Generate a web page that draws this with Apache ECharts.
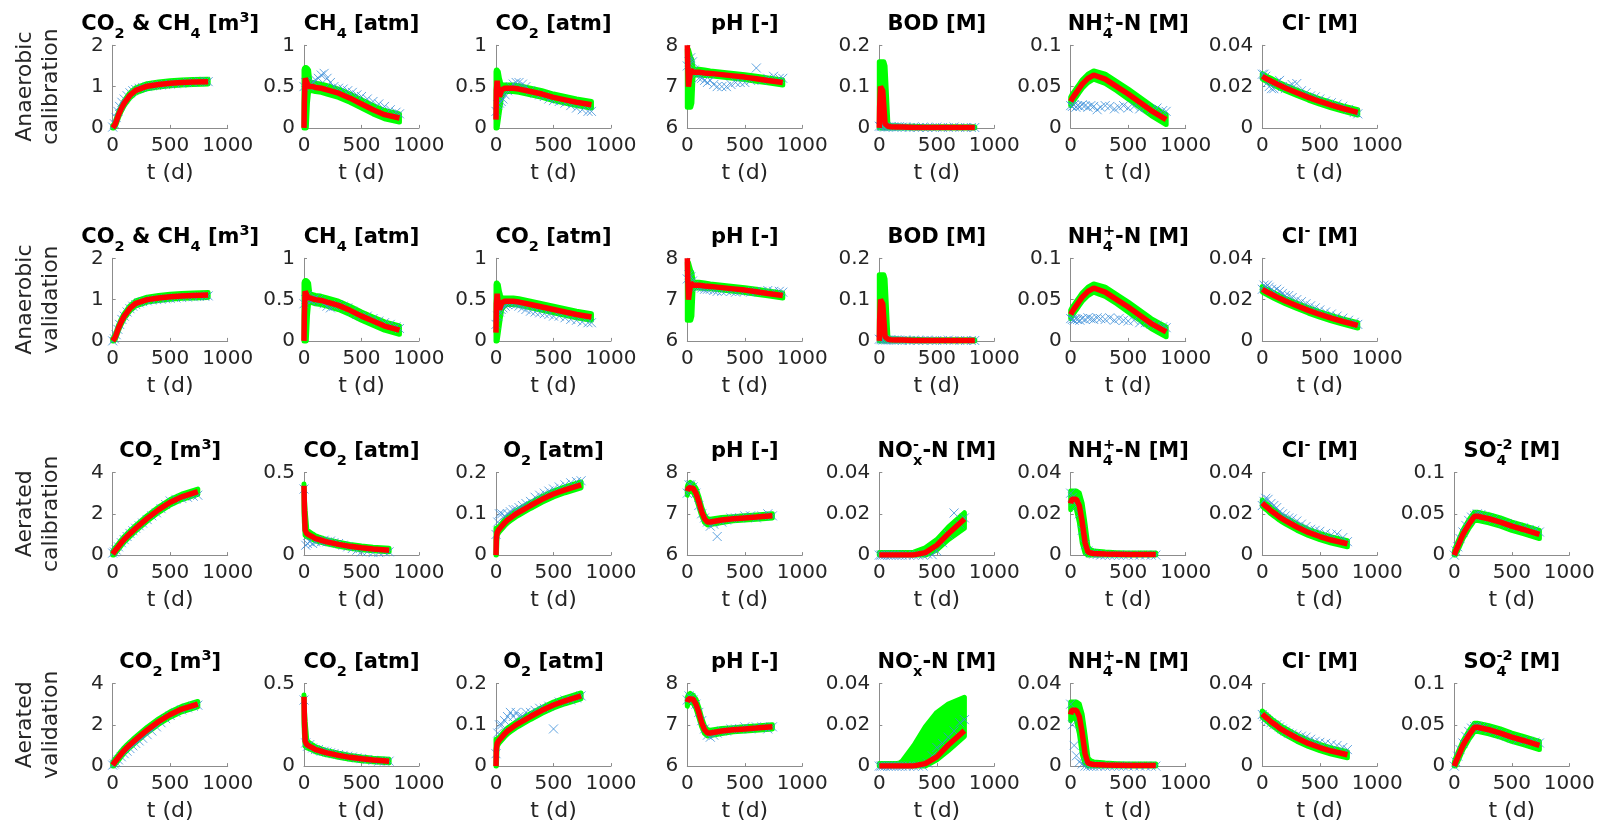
<!DOCTYPE html>
<html><head><meta charset="utf-8">
<script src="https://cdn.jsdelivr.net/npm/echarts@6/dist/echarts.min.js"></script>
<style>html,body{margin:0;padding:0;background:#fff}#c{width:1604px;height:826px}</style>
</head><body><div id="c"></div>
<script>
// ---------- time grids ----------
const tAn = [0, 3, 10, 20, 30, 40, 50, 75, 100, 150, 200, 300, 400, 500, 600, 700, 830];
const oAn = [0, 15, 30, 45, 60, 80, 100, 125, 150, 175, 200, 230, 260, 300, 340, 380, 420, 460, 500, 550, 600, 650, 700, 750, 800, 830];
const tAe = [0, 3, 10, 25, 50, 75, 100, 125, 150, 175, 200, 300, 400, 500, 600, 740];
const oAe = [0, 15, 30, 50, 75, 100, 125, 150, 175, 200, 230, 260, 300, 340, 380, 420, 460, 500, 550, 600, 650, 700, 740];
const xTicks = [0, 500, 1000];

const rowLabels = ['Anaerobic\ncalibration', 'Anaerobic\nvalidation', 'Aerated\ncalibration', 'Aerated\nvalidation'];
const titlesAn = ['{m|CO}{b|2}{m| & CH}{b|4}{m| [m}{p|3}{m|]}', '{m|CH}{b|4}{m| [atm]}', '{m|CO}{b|2}{m| [atm]}', '{m|pH [-]}', '{m|BOD [M]}', '{m|NH}{c|4}{p|+}{m|-N [M]}', '{m|Cl}{p|-}{m| [M]}'];
const titlesAe = ['{m|CO}{b|2}{m| [m}{p|3}{m|]}', '{m|CO}{b|2}{m| [atm]}', '{m|O}{b|2}{m| [atm]}', '{m|pH [-]}', '{m|NO}{q|-}{b|x}{m|-N [M]}', '{m|NH}{c|4}{p|+}{m|-N [M]}', '{m|Cl}{p|-}{m| [M]}', '{m|SO}{c|4}{p|-2}{m| [M]}'];
const yMinAn = [0, 0, 0, 6, 0, 0, 0];
const yMaxAn = [2, 1, 1, 8, 0.2, 0.1, 0.04];
const yStepAn = [1, 0.5, 0.5, 1, 0.1, 0.05, 0.02];
const yMinAe = [0, 0, 0, 6, 0, 0, 0, 0];
const yMaxAe = [4, 0.5, 0.2, 8, 0.04, 0.04, 0.04, 0.1];
const yStepAe = [2, 0.5, 0.1, 1, 0.02, 0.02, 0.02, 0.05];

// ---------- Anaerobic calibration ----------
const anCalRed = [
 [0, 0, 0.02, 0.08, 0.15, 0.23, 0.31, 0.47, 0.6, 0.79, 0.91, 1.01, 1.05, 1.08, 1.1, 1.11, 1.12],
 [0, 0.3, 0.6, 0.62, 0.53, 0.5, 0.5, 0.5, 0.49, 0.48, 0.46, 0.42, 0.36, 0.29, 0.22, 0.16, 0.12],
 [0.1, 0.45, 0.57, 0.45, 0.38, 0.42, 0.46, 0.48, 0.48, 0.48, 0.47, 0.44, 0.41, 0.37, 0.34, 0.31, 0.28],
 [8, 7.6, 7.0, 7.2, 7.4, 7.36, 7.35, 7.35, 7.35, 7.33, 7.32, 7.29, 7.26, 7.23, 7.19, 7.15, 7.1],
 [0, 0.05, 0.1, 0.1, 0.09, 0.05, 0.01, 0.004, 0.003, 0.002, 0.002, 0.001, 0.001, 0.001, 0.001, 0.001, 0.001],
 [0.032, 0.033, 0.035, 0.037, 0.039, 0.041, 0.043, 0.048, 0.053, 0.06, 0.064, 0.059, 0.05, 0.041, 0.031, 0.021, 0.01],
 [0.025, 0.0249, 0.0246, 0.0243, 0.024, 0.0237, 0.0234, 0.0227, 0.022, 0.0206, 0.0193, 0.017, 0.0148, 0.0128, 0.011, 0.0094, 0.0075]
];
const anCalLo = [
 [0, 0, 0, 0.02, 0.09, 0.17, 0.25, 0.41, 0.54, 0.73, 0.85, 0.95, 0.99, 1.02, 1.04, 1.05, 1.06],
 [0, 0, 0, 0, 0.3, 0.44, 0.45, 0.45, 0.44, 0.43, 0.41, 0.37, 0.31, 0.24, 0.17, 0.11, 0.07],
 [0, 0, 0, 0.1, 0.2, 0.3, 0.38, 0.43, 0.44, 0.44, 0.43, 0.4, 0.37, 0.33, 0.3, 0.27, 0.24],
 [6.5, 6.5, 6.5, 6.5, 6.5, 6.6, 7.26, 7.28, 7.28, 7.27, 7.26, 7.23, 7.2, 7.17, 7.13, 7.09, 7.04],
 [0, 0, 0, 0, 0, 0, 0, 0, 0, 0, 0, 0, 0, 0, 0, 0, 0],
 [0.027, 0.028, 0.03, 0.032, 0.034, 0.036, 0.038, 0.043, 0.048, 0.055, 0.059, 0.054, 0.045, 0.035, 0.025, 0.015, 0.004],
 [0.0237, 0.0236, 0.0233, 0.023, 0.0227, 0.0224, 0.0221, 0.0214, 0.0207, 0.0193, 0.018, 0.0157, 0.0135, 0.0115, 0.0097, 0.0081, 0.0062]
];
const anCalHi = [
 [0.06, 0.06, 0.08, 0.14, 0.21, 0.29, 0.37, 0.53, 0.66, 0.85, 0.97, 1.07, 1.11, 1.14, 1.16, 1.17, 1.18],
 [0.7, 0.72, 0.73, 0.73, 0.72, 0.7, 0.57, 0.55, 0.54, 0.53, 0.51, 0.47, 0.41, 0.34, 0.27, 0.21, 0.17],
 [0.68, 0.7, 0.7, 0.68, 0.6, 0.55, 0.52, 0.52, 0.52, 0.52, 0.51, 0.48, 0.45, 0.41, 0.38, 0.35, 0.32],
 [7.9, 7.9, 7.9, 7.8, 7.7, 7.65, 7.45, 7.42, 7.42, 7.4, 7.38, 7.35, 7.32, 7.29, 7.25, 7.21, 7.16],
 [0.16, 0.16, 0.16, 0.16, 0.16, 0.16, 0.15, 0.008, 0.006, 0.005, 0.004, 0.004, 0.003, 0.003, 0.003, 0.003, 0.003],
 [0.037, 0.038, 0.04, 0.042, 0.044, 0.046, 0.048, 0.053, 0.058, 0.065, 0.069, 0.065, 0.056, 0.047, 0.037, 0.027, 0.016],
 [0.0263, 0.0262, 0.0259, 0.0256, 0.0253, 0.025, 0.0247, 0.024, 0.0233, 0.0219, 0.0206, 0.0183, 0.0161, 0.0141, 0.0123, 0.0107, 0.0088]
];
const anCalObs = [
 [0.02, 0.1, 0.25, 0.4, 0.52, 0.62, 0.7, 0.78, 0.85, 0.9, 0.93, 0.96, 0.98, 1.0, 1.02, 1.03, 1.04, 1.05, 1.06, 1.07, 1.08, 1.1, 1.1, 1.12, 1.13, 1.12],
 [0.5, 0.55, 0.52, 0.5, 0.52, 0.56, 0.58, 0.6, 0.64, 0.66, 0.6, 0.55, 0.5, 0.48, 0.47, 0.45, 0.43, 0.4, 0.38, 0.35, 0.32, 0.29, 0.26, 0.22, 0.19, 0.17],
 [0.2, 0.28, 0.3, 0.32, 0.35, 0.4, 0.45, 0.5, 0.53, 0.55, 0.55, 0.53, 0.5, 0.45, 0.42, 0.4, 0.38, 0.35, 0.33, 0.32, 0.3, 0.27, 0.24, 0.22, 0.2, 0.2],
 [7.5, 7.6, 7.7, 7.6, 7.4, 7.3, 7.2, 7.2, 7.15, 7.1, 7.15, 7.05, 7.0, 7.0, 7.0, 7.05, 7.1, 7.1, 7.1, 7.15, 7.45, 7.15, 7.2, 7.25, 7.2, 7.2],
 [0.004, 0.003, 0.004, 0.002, 0.003, 0.002, 0.003, 0.002, 0.002, 0.003, 0.002, 0.002, 0.001, 0.002, 0.001, 0.002, 0.001, 0.001, 0.002, 0.001, 0.001, 0.002, 0.001, 0.001, 0.001, 0.001],
 [0.027, 0.026, 0.028, 0.025, 0.027, 0.026, 0.028, 0.027, 0.025, 0.027, 0.026, 0.022, 0.025, 0.027, 0.026, 0.023, 0.025, 0.027, 0.024, 0.026, 0.023, 0.025, 0.022, 0.024, 0.021, 0.02],
 [0.026, 0.026, 0.025, 0.022, 0.02, 0.019, 0.019, 0.022, 0.023, 0.02, 0.019, 0.02, 0.021, 0.0215, 0.018, 0.017, 0.0155, 0.015, 0.014, 0.013, 0.0122, 0.0115, 0.0105, 0.009, 0.0075, 0.0068]
];

// ---------- Anaerobic validation ----------
const anValRed = [
 [0, 0, 0.02, 0.08, 0.15, 0.23, 0.31, 0.47, 0.6, 0.79, 0.91, 1.0, 1.04, 1.07, 1.09, 1.1, 1.11],
 [0, 0.3, 0.6, 0.62, 0.53, 0.52, 0.52, 0.51, 0.5, 0.49, 0.47, 0.43, 0.37, 0.3, 0.24, 0.18, 0.13],
 [0.1, 0.45, 0.57, 0.45, 0.38, 0.42, 0.46, 0.48, 0.48, 0.48, 0.47, 0.44, 0.41, 0.38, 0.35, 0.32, 0.29],
 [8, 7.6, 7.0, 7.2, 7.4, 7.36, 7.35, 7.35, 7.35, 7.33, 7.32, 7.29, 7.26, 7.23, 7.19, 7.15, 7.1],
 [0, 0.05, 0.1, 0.1, 0.09, 0.05, 0.01, 0.004, 0.003, 0.002, 0.002, 0.001, 0.001, 0.001, 0.001, 0.001, 0.001],
 [0.032, 0.033, 0.035, 0.037, 0.039, 0.041, 0.043, 0.048, 0.053, 0.06, 0.064, 0.059, 0.05, 0.041, 0.031, 0.021, 0.011],
 [0.025, 0.0249, 0.0246, 0.0243, 0.024, 0.0237, 0.0234, 0.0227, 0.022, 0.0206, 0.0193, 0.017, 0.0148, 0.0128, 0.011, 0.0094, 0.0075]
];
const anValLo = [
 [0, 0, 0, 0.02, 0.09, 0.17, 0.25, 0.41, 0.54, 0.73, 0.85, 0.94, 0.98, 1.01, 1.03, 1.04, 1.05],
 [0, 0, 0, 0, 0.3, 0.46, 0.47, 0.46, 0.45, 0.44, 0.42, 0.38, 0.32, 0.25, 0.19, 0.13, 0.08],
 [0, 0, 0, 0.1, 0.2, 0.3, 0.38, 0.43, 0.44, 0.44, 0.43, 0.4, 0.37, 0.34, 0.31, 0.28, 0.25],
 [6.5, 6.5, 6.5, 6.5, 6.5, 6.6, 7.26, 7.28, 7.28, 7.27, 7.26, 7.23, 7.2, 7.17, 7.13, 7.09, 7.04],
 [0, 0, 0, 0, 0, 0, 0, 0, 0, 0, 0, 0, 0, 0, 0, 0, 0],
 [0.027, 0.028, 0.03, 0.032, 0.034, 0.036, 0.038, 0.043, 0.048, 0.055, 0.059, 0.054, 0.045, 0.035, 0.025, 0.015, 0.005],
 [0.0237, 0.0236, 0.0233, 0.023, 0.0227, 0.0224, 0.0221, 0.0214, 0.0207, 0.0193, 0.018, 0.0157, 0.0135, 0.0115, 0.0097, 0.0081, 0.0062]
];
const anValHi = [
 [0.06, 0.06, 0.08, 0.14, 0.21, 0.29, 0.37, 0.53, 0.66, 0.85, 0.97, 1.06, 1.1, 1.13, 1.15, 1.16, 1.17],
 [0.7, 0.72, 0.73, 0.73, 0.72, 0.7, 0.58, 0.56, 0.55, 0.54, 0.52, 0.48, 0.42, 0.35, 0.29, 0.23, 0.18],
 [0.68, 0.7, 0.7, 0.68, 0.6, 0.55, 0.52, 0.52, 0.52, 0.52, 0.51, 0.48, 0.45, 0.42, 0.39, 0.36, 0.33],
 [7.9, 7.9, 7.9, 7.8, 7.7, 7.65, 7.45, 7.42, 7.42, 7.4, 7.38, 7.35, 7.32, 7.29, 7.25, 7.21, 7.16],
 [0.16, 0.16, 0.16, 0.16, 0.16, 0.16, 0.15, 0.008, 0.006, 0.005, 0.004, 0.004, 0.003, 0.003, 0.003, 0.003, 0.003],
 [0.037, 0.038, 0.04, 0.042, 0.044, 0.046, 0.048, 0.053, 0.058, 0.065, 0.069, 0.065, 0.056, 0.047, 0.037, 0.027, 0.017],
 [0.0263, 0.0262, 0.0259, 0.0256, 0.0253, 0.025, 0.0247, 0.024, 0.0233, 0.0219, 0.0206, 0.0183, 0.0161, 0.0141, 0.0123, 0.0107, 0.0088]
];
const anValObs = [
 [0, 0.05, 0.15, 0.28, 0.4, 0.52, 0.6, 0.7, 0.78, 0.84, 0.88, 0.92, 0.95, 0.97, 0.99, 1.0, 1.01, 1.02, 1.03, 1.04, 1.05, 1.06, 1.07, 1.08, 1.08, 1.09],
 [0.45, 0.5, 0.55, 0.5, 0.48, 0.5, 0.52, 0.5, 0.48, 0.45, 0.42, 0.4, 0.42, 0.44, 0.42, 0.4, 0.36, 0.32, 0.3, 0.3, 0.27, 0.24, 0.22, 0.2, 0.17, 0.15],
 [0.2, 0.3, 0.35, 0.38, 0.4, 0.42, 0.44, 0.45, 0.45, 0.44, 0.42, 0.4, 0.38, 0.36, 0.35, 0.34, 0.33, 0.32, 0.3, 0.3, 0.28, 0.26, 0.25, 0.23, 0.22, 0.22],
 [7.5, 7.6, 7.55, 7.45, 7.35, 7.3, 7.3, 7.28, 7.25, 7.25, 7.25, 7.22, 7.2, 7.2, 7.22, 7.2, 7.18, 7.2, 7.2, 7.18, 7.2, 7.2, 7.22, 7.2, 7.2, 7.18],
 [0.004, 0.003, 0.002, 0.003, 0.002, 0.002, 0.003, 0.002, 0.002, 0.002, 0.001, 0.002, 0.001, 0.002, 0.001, 0.001, 0.002, 0.001, 0.001, 0.001, 0.002, 0.001, 0.001, 0.001, 0.001, 0.001],
 [0.027, 0.026, 0.025, 0.027, 0.026, 0.025, 0.027, 0.026, 0.028, 0.027, 0.026, 0.028, 0.027, 0.026, 0.028, 0.025, 0.027, 0.025, 0.024, 0.025, 0.022, 0.022, 0.02, 0.019, 0.017, 0.016],
 [0.025, 0.027, 0.026, 0.027, 0.026, 0.025, 0.024, 0.025, 0.024, 0.023, 0.022, 0.022, 0.021, 0.02, 0.019, 0.018, 0.017, 0.016, 0.015, 0.014, 0.013, 0.012, 0.011, 0.01, 0.009, 0.008]
];

// ---------- Aerated calibration ----------
const aeCalRed = [
 [0.05, 0.07, 0.13, 0.25, 0.42, 0.6, 0.76, 0.9, 1.04, 1.17, 1.3, 1.78, 2.2, 2.56, 2.82, 3.07],
 [0.42, 0.3, 0.15, 0.13, 0.12, 0.11, 0.1, 0.095, 0.09, 0.085, 0.08, 0.065, 0.053, 0.044, 0.037, 0.03],
 [0, 0.04, 0.055, 0.062, 0.07, 0.078, 0.085, 0.09, 0.095, 0.1, 0.104, 0.12, 0.135, 0.148, 0.158, 0.17],
 [7.55, 7.58, 7.63, 7.66, 7.62, 7.5, 7.3, 7.05, 6.88, 6.8, 6.8, 6.85, 6.88, 6.9, 6.92, 6.95],
 [0, 0, 0, 0, 0, 0, 0, 0, 0, 0, 0, 0.0001, 0.0012, 0.0048, 0.0103, 0.0175],
 [0.025, 0.026, 0.027, 0.0275, 0.027, 0.024, 0.016, 0.006, 0.0015, 0.001, 0.0008, 0.0005, 0.0004, 0.0003, 0.0003, 0.0003],
 [0.0252, 0.025, 0.0247, 0.0239, 0.0228, 0.0215, 0.0205, 0.0195, 0.0184, 0.0175, 0.0167, 0.0136, 0.011, 0.009, 0.0073, 0.0055],
 [0, 0.001, 0.004, 0.009, 0.017, 0.025, 0.031, 0.037, 0.042, 0.047, 0.047, 0.044, 0.04, 0.035, 0.031, 0.025]
];
const aeCalLo = [
 [0, 0, 0, 0.12, 0.29, 0.47, 0.63, 0.77, 0.91, 1.04, 1.17, 1.65, 2.07, 2.43, 2.69, 2.94],
 [0.26, 0.2, 0.12, 0.11, 0.105, 0.095, 0.087, 0.082, 0.077, 0.072, 0.068, 0.053, 0.042, 0.033, 0.026, 0.02],
 [0, 0, 0.048, 0.055, 0.063, 0.071, 0.078, 0.083, 0.088, 0.093, 0.097, 0.113, 0.128, 0.141, 0.151, 0.163],
 [7.45, 7.48, 7.53, 7.56, 7.52, 7.4, 7.18, 6.95, 6.79, 6.73, 6.74, 6.79, 6.83, 6.85, 6.87, 6.9],
 [0, 0, 0, 0, 0, 0, 0, 0, 0, 0, 0, 0, 0, 0.0025, 0.0075, 0.013],
 [0.022, 0.023, 0.024, 0.024, 0.022, 0.016, 0.006, 0.001, 0, 0, 0, 0, 0, 0, 0, 0],
 [0.0237, 0.0235, 0.0232, 0.0224, 0.0213, 0.02, 0.019, 0.018, 0.0169, 0.016, 0.0152, 0.0121, 0.0095, 0.0075, 0.0058, 0.004],
 [0, 0, 0, 0.004, 0.012, 0.02, 0.026, 0.032, 0.037, 0.042, 0.042, 0.039, 0.035, 0.03, 0.026, 0.02]
];
const aeCalHi = [
 [0.18, 0.2, 0.26, 0.38, 0.55, 0.73, 0.89, 1.03, 1.17, 1.3, 1.43, 1.91, 2.33, 2.69, 2.95, 3.2],
 [0.43, 0.35, 0.27, 0.15, 0.14, 0.128, 0.117, 0.11, 0.104, 0.098, 0.093, 0.078, 0.065, 0.055, 0.048, 0.041],
 [0.065, 0.065, 0.063, 0.069, 0.077, 0.085, 0.092, 0.097, 0.102, 0.107, 0.111, 0.127, 0.142, 0.155, 0.165, 0.177],
 [7.65, 7.68, 7.73, 7.76, 7.72, 7.62, 7.42, 7.16, 6.97, 6.88, 6.87, 6.91, 6.93, 6.95, 6.97, 7.0],
 [0.0012, 0.0012, 0.0012, 0.0012, 0.0012, 0.0012, 0.0012, 0.0012, 0.0012, 0.0012, 0.0012, 0.0014, 0.0035, 0.0075, 0.0135, 0.0205],
 [0.031, 0.031, 0.031, 0.031, 0.031, 0.03, 0.025, 0.015, 0.004, 0.0025, 0.002, 0.0015, 0.0012, 0.001, 0.001, 0.001],
 [0.0267, 0.0265, 0.0262, 0.0254, 0.0243, 0.023, 0.022, 0.021, 0.0199, 0.019, 0.0182, 0.0151, 0.0125, 0.0105, 0.0088, 0.007],
 [0.004, 0.006, 0.009, 0.014, 0.022, 0.03, 0.036, 0.042, 0.047, 0.052, 0.052, 0.049, 0.045, 0.04, 0.036, 0.03]
];
const aeCalObs = [
 [0.1, 0.15, 0.25, 0.4, 0.6, 0.75, 0.9, 1.05, 1.18, 1.3, 1.42, 1.55, 1.72, 1.9, 2.05, 2.25, 2.45, 2.62, 2.7, 2.75, 2.8, 2.85, 2.9],
 [0.4, 0.06, 0.07, 0.08, 0.07, 0.08, 0.09, 0.08, 0.09, 0.08, 0.085, 0.075, 0.07, 0.06, 0.05, 0.04, 0.03, 0.02, 0.02, 0.015, 0.015, 0.02, 0.02],
 [0.05, 0.08, 0.1, 0.1, 0.095, 0.1, 0.105, 0.11, 0.11, 0.115, 0.12, 0.125, 0.13, 0.14, 0.145, 0.15, 0.155, 0.16, 0.165, 0.17, 0.175, 0.178, 0.18],
 [7.5, 7.7, 7.7, 7.65, 7.5, 7.2, 7.0, 6.9, 6.8, 6.7, 6.75, 6.45, 6.8, 6.85, 6.9, 6.9, 6.9, 6.95, 6.95, 6.9, 6.95, 7.0, 6.95],
 [0, 0, 0, 0, 0, 0, 0, 0, 0, 0, 0, 0, 0, 0, 0, 0.0005, 0.0002, 0.002, 0.006, 0.01, 0.0204, 0.015, 0.018],
 [0.03, 0.028, 0.026, 0.024, 0.02, 0.012, 0.005, 0.002, 0.001, 0.0005, 0.0003, 0, 0, 0, 0, 0, 0, 0, 0, 0, 0, 0, 0],
 [0.024, 0.026, 0.0275, 0.027, 0.025, 0.024, 0.023, 0.021, 0.02, 0.019, 0.018, 0.0175, 0.0165, 0.015, 0.0138, 0.0125, 0.012, 0.0115, 0.0105, 0.0098, 0.0102, 0.0085, 0.0065],
 [0, 0.005, 0.01, 0.02, 0.028, 0.036, 0.042, 0.046, 0.048, 0.05, 0.049, 0.047, 0.045, 0.043, 0.041, 0.039, 0.038, 0.036, 0.034, 0.033, 0.031, 0.03, 0.028]
];

// ---------- Aerated validation ----------
const aeValRed = [
 [0.05, 0.07, 0.13, 0.25, 0.42, 0.6, 0.76, 0.9, 1.03, 1.16, 1.28, 1.75, 2.16, 2.5, 2.76, 3.0],
 [0.42, 0.3, 0.15, 0.13, 0.12, 0.11, 0.1, 0.095, 0.09, 0.085, 0.08, 0.065, 0.053, 0.044, 0.037, 0.03],
 [0, 0.04, 0.055, 0.062, 0.07, 0.078, 0.085, 0.09, 0.095, 0.1, 0.104, 0.12, 0.135, 0.148, 0.158, 0.17],
 [7.55, 7.58, 7.63, 7.66, 7.62, 7.5, 7.3, 7.05, 6.88, 6.8, 6.8, 6.85, 6.88, 6.9, 6.92, 6.95],
 [0, 0, 0, 0, 0, 0, 0, 0, 0, 0, 0, 0.0001, 0.0012, 0.0045, 0.0102, 0.0172],
 [0.025, 0.026, 0.027, 0.0275, 0.027, 0.024, 0.016, 0.006, 0.0015, 0.001, 0.0008, 0.0005, 0.0004, 0.0003, 0.0003, 0.0003],
 [0.0252, 0.025, 0.0247, 0.0239, 0.0228, 0.0215, 0.0205, 0.0195, 0.0184, 0.0175, 0.0167, 0.0136, 0.011, 0.009, 0.0073, 0.0055],
 [0, 0.001, 0.004, 0.009, 0.017, 0.025, 0.031, 0.037, 0.042, 0.047, 0.047, 0.044, 0.04, 0.035, 0.031, 0.025]
];
const aeValLo = [
 [0, 0, 0, 0.12, 0.29, 0.47, 0.63, 0.77, 0.9, 1.03, 1.15, 1.62, 2.03, 2.37, 2.63, 2.87],
 [0.26, 0.2, 0.12, 0.11, 0.105, 0.095, 0.087, 0.082, 0.077, 0.072, 0.068, 0.053, 0.042, 0.033, 0.026, 0.02],
 [0, 0, 0.048, 0.055, 0.063, 0.071, 0.078, 0.083, 0.088, 0.093, 0.097, 0.113, 0.128, 0.141, 0.151, 0.163],
 [7.45, 7.48, 7.53, 7.56, 7.52, 7.4, 7.18, 6.95, 6.79, 6.73, 6.74, 6.79, 6.83, 6.85, 6.87, 6.9],
 [0, 0, 0, 0, 0, 0, 0, 0, 0, 0, 0, 0, 0, 0.003, 0.0075, 0.0144],
 [0.022, 0.023, 0.024, 0.024, 0.022, 0.016, 0.006, 0.001, 0, 0, 0, 0, 0, 0, 0, 0],
 [0.0237, 0.0235, 0.0232, 0.0224, 0.0213, 0.02, 0.019, 0.018, 0.0169, 0.016, 0.0152, 0.0121, 0.0095, 0.0075, 0.0058, 0.004],
 [0, 0, 0, 0.004, 0.012, 0.02, 0.026, 0.032, 0.037, 0.042, 0.042, 0.039, 0.035, 0.03, 0.026, 0.02]
];
const aeValHi = [
 [0.18, 0.2, 0.26, 0.38, 0.55, 0.73, 0.89, 1.03, 1.16, 1.29, 1.41, 1.88, 2.29, 2.63, 2.89, 3.13],
 [0.43, 0.35, 0.27, 0.15, 0.14, 0.128, 0.117, 0.11, 0.104, 0.098, 0.093, 0.078, 0.065, 0.055, 0.048, 0.041],
 [0.065, 0.065, 0.063, 0.069, 0.077, 0.085, 0.092, 0.097, 0.102, 0.107, 0.111, 0.127, 0.142, 0.155, 0.165, 0.177],
 [7.65, 7.68, 7.73, 7.76, 7.72, 7.62, 7.42, 7.16, 6.97, 6.88, 6.87, 6.91, 6.93, 6.95, 6.97, 7.0],
 [0.0012, 0.0012, 0.0012, 0.0012, 0.0012, 0.0012, 0.0012, 0.0012, 0.0012, 0.0015, 0.0025, 0.01, 0.019, 0.026, 0.03, 0.0333],
 [0.031, 0.031, 0.031, 0.031, 0.031, 0.03, 0.025, 0.015, 0.004, 0.0025, 0.002, 0.0015, 0.0012, 0.001, 0.001, 0.001],
 [0.0267, 0.0265, 0.0262, 0.0254, 0.0243, 0.023, 0.022, 0.021, 0.0199, 0.019, 0.0182, 0.0151, 0.0125, 0.0105, 0.0088, 0.007],
 [0.004, 0.006, 0.009, 0.014, 0.022, 0.03, 0.036, 0.042, 0.047, 0.052, 0.052, 0.049, 0.045, 0.04, 0.036, 0.03]
];
const aeValObs = [
 [0.05, 0.1, 0.18, 0.3, 0.45, 0.6, 0.72, 0.85, 0.98, 1.1, 1.22, 1.35, 1.52, 1.7, 1.9, 2.1, 2.3, 2.45, 2.6, 2.72, 2.82, 2.9, 2.95],
 [0.4, 0.14, 0.12, 0.13, 0.11, 0.1, 0.1, 0.09, 0.09, 0.085, 0.08, 0.075, 0.07, 0.065, 0.06, 0.055, 0.05, 0.045, 0.04, 0.035, 0.03, 0.03, 0.03],
 [0.03, 0.08, 0.1, 0.1, 0.11, 0.12, 0.13, 0.12, 0.13, 0.12, 0.12, 0.13, 0.13, 0.135, 0.14, 0.14, 0.145, 0.09, 0.155, 0.16, 0.16, 0.165, 0.17],
 [7.6, 7.7, 7.65, 7.6, 7.5, 7.3, 7.1, 6.9, 6.75, 6.7, 6.75, 6.8, 6.85, 6.85, 6.9, 6.9, 6.9, 6.95, 6.9, 6.95, 6.95, 6.9, 6.95],
 [0, 0, 0, 0, 0, 0, 0, 0, 0, 0, 0, 0, 0, 0, 0, 0.0015, 0.005, 0.009, 0.011, 0.014, 0.017, 0.021, 0.0225],
 [0.03, 0.02, 0.01, 0.005, 0.002, 0.001, 0, 0, 0, 0, 0, 0, 0, 0, 0, 0, 0, 0, 0, 0, 0, 0, 0],
 [0.025, 0.024, 0.023, 0.022, 0.021, 0.02, 0.02, 0.019, 0.018, 0.017, 0.016, 0.0155, 0.015, 0.0145, 0.014, 0.013, 0.012, 0.0115, 0.011, 0.0105, 0.01, 0.009, 0.008],
 [0, 0.005, 0.012, 0.02, 0.028, 0.036, 0.042, 0.046, 0.048, 0.048, 0.047, 0.046, 0.044, 0.042, 0.04, 0.038, 0.036, 0.034, 0.032, 0.031, 0.03, 0.029, 0.028]
];

// ---------- layout & style ----------
const colLeft = [112.7, 304, 496, 687.3, 879.3, 1070.7, 1262.3, 1454.3];
const rowTop = [45.3, 258.3, 472.5, 683.5];
const W = 115, H = 82.6;
const GREEN = '#00ff00', RED = '#ff0000', BLUE = '#3b8ed8', AXC = '#8c8c8c', TXT = '#262626';
const FF = 'DejaVu Sans';

const rows = [
  {t: tAn, o: oAn, red: anCalRed, lo: anCalLo, hi: anCalHi, obs: anCalObs, titles: titlesAn, ymin: yMinAn, ymax: yMaxAn, ystep: yStepAn},
  {t: tAn, o: oAn, red: anValRed, lo: anValLo, hi: anValHi, obs: anValObs, titles: titlesAn, ymin: yMinAn, ymax: yMaxAn, ystep: yStepAn},
  {t: tAe, o: oAe, red: aeCalRed, lo: aeCalLo, hi: aeCalHi, obs: aeCalObs, titles: titlesAe, ymin: yMinAe, ymax: yMaxAe, ystep: yStepAe},
  {t: tAe, o: oAe, red: aeValRed, lo: aeValLo, hi: aeValHi, obs: aeValObs, titles: titlesAe, ymin: yMinAe, ymax: yMaxAe, ystep: yStepAe}
];

const base = {fontFamily: FF, fontWeight: 'bold', color: '#000', verticalAlign: 'top', align: 'left', lineHeight: 30};
const titleRich = {
  m: Object.assign({}, base, {fontSize: 21, padding: [4, 0, 0, 0]}),
  b: Object.assign({}, base, {fontSize: 14.5, padding: [16.6, 0, 0, 0]}),
  p: Object.assign({}, base, {fontSize: 14.5, padding: [0.8, 0, 0, 0]}),
  c: Object.assign({}, base, {fontSize: 14.5, padding: [16.6, 0, 0, 0], width: 0.1}),
  q: Object.assign({}, base, {fontSize: 14.5, padding: [0.8, 0, 0, 0], width: 0.1})
};

function bandRender(params, api) {
  if (params.dataIndexInside !== 0) return null;
  const n = params.dataInsideLength;
  const up = [], dn = [];
  for (let i = 0; i < n; i++) {
    up.push(api.coord([api.value(0, i), api.value(2, i)]));
    dn.push(api.coord([api.value(0, i), api.value(1, i)]));
  }
  return {
    type: 'polygon',
    shape: {points: up.concat(dn.reverse())},
    style: {fill: GREEN, stroke: GREEN, lineWidth: 5, lineJoin: 'round'}
  };
}

const grids = [], xAxes = [], yAxes = [], titles = [], series = [], graphics = [];
const fmt = v => String(+v.toFixed(6));

rows.forEach((row, r) => {
  graphics.push({
    type: 'text', x: 38.7, y: rowTop[r] + H / 2, rotation: Math.PI / 2,
    style: {text: rowLabels[r], fontSize: 22, fontFamily: FF, fill: TXT, align: 'center', verticalAlign: 'middle', lineHeight: 26}
  });
  row.red.forEach((redv, c) => {
    const gi = grids.length;
    const left = colLeft[c], top = rowTop[r];
    grids.push({left: left, top: top, width: W, height: H, containLabel: false, outerBoundsMode: 'none'});
    const axisCommon = {
      gridIndex: gi, type: 'value',
      axisLine: {show: true, onZero: false, lineStyle: {color: AXC, width: 1}},
      axisTick: {show: true, inside: true, length: 3, lineStyle: {color: AXC, width: 1}},
      splitLine: {show: false},
      axisLabel: {color: TXT, fontSize: 20, fontFamily: FF, formatter: fmt}
    };
    xAxes.push(Object.assign({}, axisCommon, {
      min: xTicks[0], max: xTicks[xTicks.length - 1], interval: xTicks[1] - xTicks[0],
      axisLabel: Object.assign({}, axisCommon.axisLabel, {margin: 8}),
      name: 't (d)', nameLocation: 'middle', nameGap: 34, nameMoveOverlap: false,
      nameTextStyle: {fontSize: 22, color: TXT, fontFamily: FF}
    }));
    yAxes.push(Object.assign({}, axisCommon, {
      min: row.ymin[c], max: row.ymax[c], interval: row.ystep[c],
      axisLabel: Object.assign({}, axisCommon.axisLabel, {margin: 9})
    }));
    titles.push({
      text: row.titles[c], left: left + W / 2, top: top - 35.6, textAlign: 'center', padding: 0,
      textStyle: {rich: titleRich, fontFamily: FF}
    });
    const t = row.t, lo = row.lo[c], hi = row.hi[c];
    series.push({
      type: 'custom', xAxisIndex: gi, yAxisIndex: gi, silent: true, z: 1,
      data: t.map((x, i) => [x, lo[i], hi[i]]),
      encode: {x: 0, y: [1, 2]},
      renderItem: bandRender
    });
    series.push({
      type: 'scatter', xAxisIndex: gi, yAxisIndex: gi, silent: true, z: 2,
      symbol: 'path://M0 0L10 10M10 0L0 10', symbolSize: 9,
      itemStyle: {color: 'transparent', borderColor: BLUE, borderWidth: 1},
      data: row.o.map((x, i) => [x, row.obs[c][i]])
    });
    series.push({
      type: 'line', xAxisIndex: gi, yAxisIndex: gi, symbol: 'none', silent: true, z: 3,
      data: t.map((x, i) => [x, redv[i]]), lineStyle: {color: RED, width: 5.5}
    });
  });
});

const chart = echarts.init(document.getElementById('c'), null, {renderer: 'canvas'});
chart.setOption({
  animation: false,
  backgroundColor: '#fff',
  textStyle: {fontFamily: FF},
  title: titles,
  grid: grids,
  xAxis: xAxes,
  yAxis: yAxes,
  series: series,
  graphic: graphics
});
</script>
</body></html>
